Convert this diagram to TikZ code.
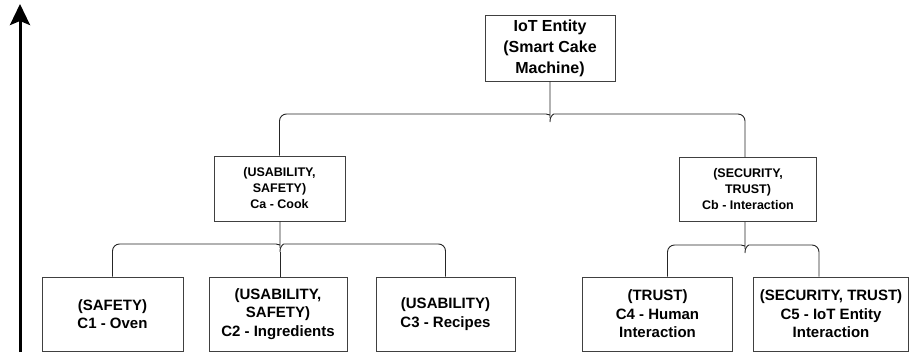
\documentclass[tikz,border=0pt]{standalone}
\usepackage{fontspec}
\setmainfont{Liberation Sans}
\usetikzlibrary{arrows.meta}
\begin{document}
\begin{tikzpicture}[x=1pt,y=-1pt,
  box/.style={draw=black!75,line width=0.9pt,fill=white,inner sep=0pt,align=center,font=\bfseries},
  topfont/.style={font=\bfseries\fontsize{16}{21}\selectfont},
  midfont/.style={font=\bfseries\fontsize{12.5}{16}\selectfont},
  lowfont/.style={font=\bfseries\fontsize{15}{18.5}\selectfont},
  link/.style={draw=black!85,line width=0.9pt,rounded corners=7pt}]
\useasboundingbox (0,0) rectangle (914,354);
\fill[white] (0,0) rectangle (914,354);

% axis arrow
\coordinate (abot) at (20,352);
\coordinate (atop) at (20,4);
\draw[line width=3pt,-{Stealth[length=21pt,width=20pt,inset=4pt]}] (abot) -- (atop);

% nodes
\node[box,topfont,minimum width=130pt,minimum height=66pt] (top) at (550,48) {IoT Entity\\(Smart Cake\\Machine)};
\node[box,midfont,minimum width=131pt,minimum height=65pt] (ca) at (279.5,188.5) {(USABILITY,\\SAFETY)\\Ca - Cook};
\node[box,midfont,minimum width=137pt,minimum height=64pt] (cb) at (748,189.5) {(SECURITY,\\TRUST)\\Cb - Interaction};
\node[box,lowfont,minimum width=141pt,minimum height=74pt] (c1) at (112.5,314) {(SAFETY)\\C1 - Oven};
\node[box,lowfont,minimum width=138pt,minimum height=74pt] (c2) at (278,314) {(USABILITY,\\SAFETY)\\C2 - Ingredients};
\node[box,lowfont,minimum width=139pt,minimum height=74pt] (c3) at (445.5,314) {(USABILITY)\\C3 - Recipes};
\node[box,lowfont,minimum width=150pt,minimum height=74pt] (c4) at (657.5,314) {(TRUST)\\C4 - Human\\Interaction};
\node[box,lowfont,minimum width=155pt,minimum height=74pt] (c5) at (831,314) {(SECURITY, TRUST)\\C5 - IoT Entity\\Interaction};

% brace junctions
\coordinate (j0) at (550,114);
\coordinate (j1) at (280,244);
\coordinate (j2) at (745,245);

% top -> ca, cb
\draw[link] (top.south) -- ([yshift=-8pt]j0)
  .. controls ([yshift=-1pt]j0) and ([xshift=-4pt]j0) .. ([xshift=-11pt]j0)
  -- (ca.north |- j0) -- (ca.north);
\draw[link] ([yshift=-8pt]j0)
  .. controls ([yshift=-1pt]j0) and ([xshift=4pt]j0) .. ([xshift=11pt]j0)
  -- ([xshift=-3pt]cb.north |- j0) -- ([xshift=-3pt]cb.north);

% ca -> c1, c2, c3
\draw[link] (ca.south -| j1) -- ([yshift=-8pt]j1)
  .. controls ([yshift=-1pt]j1) and ([xshift=-4pt]j1) .. ([xshift=-11pt]j1)
  -- (c1.north |- j1) -- (c1.north);
\draw[link] ([yshift=-8pt]j1)
  .. controls ([yshift=-1pt]j1) and ([xshift=4pt]j1) .. ([xshift=11pt]j1)
  -- (c3.north |- j1) -- (c3.north);
\draw[link] ([yshift=-8pt]j1) -- (c2.north -| j1);

% cb -> c4, c5
\draw[link] (cb.south -| j2) -- ([yshift=-8pt]j2)
  .. controls ([yshift=-1pt]j2) and ([xshift=-4pt]j2) .. ([xshift=-11pt]j2)
  -- ([xshift=10pt]c4.north |- j2) -- ([xshift=10pt]c4.north);
\draw[link] ([yshift=-8pt]j2)
  .. controls ([yshift=-1pt]j2) and ([xshift=4pt]j2) .. ([xshift=11pt]j2)
  -- ([xshift=-12pt]c5.north |- j2) -- ([xshift=-12pt]c5.north);
\end{tikzpicture}
\end{document}
